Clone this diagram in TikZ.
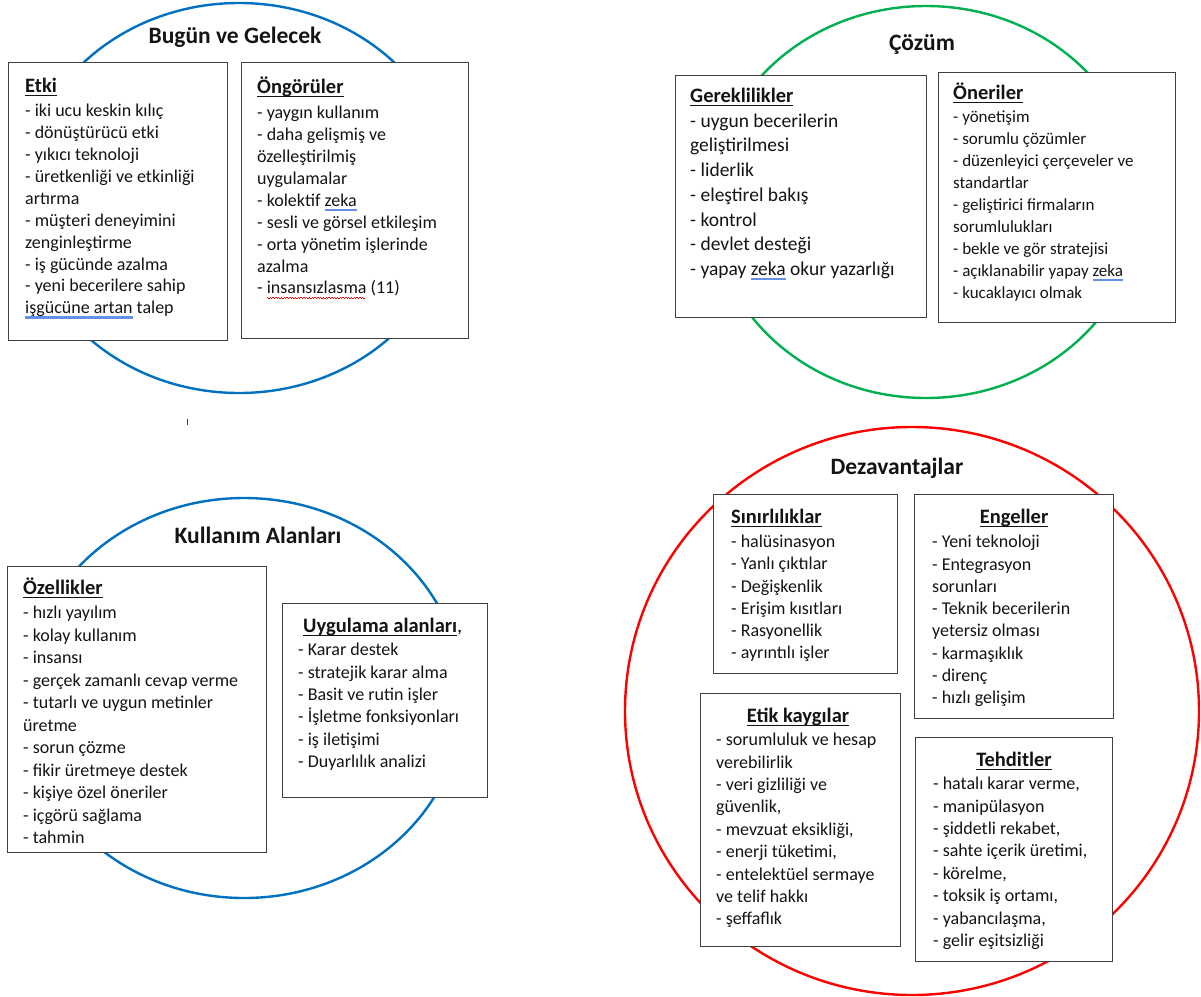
\documentclass[tikz,border=0pt]{standalone}
\usepackage{fontspec}
\setmainfont{Carlito}
\usetikzlibrary{positioning}

\definecolor{ringblue}{RGB}{0,112,192}
\definecolor{ringgreen}{RGB}{0,176,80}
\definecolor{ringred}{RGB}{255,0,0}
\definecolor{framegray}{RGB}{64,64,64}
\definecolor{checkblue}{RGB}{100,145,230}
\definecolor{inkgray}{RGB}{20,20,20}

\newsavebox\markbox
\newcommand\headline[1]{\sbox\markbox{\textbf{#1}}\rlap{\rule[-3.5pt]{\wd\markbox}{1.2pt}}\usebox\markbox}
\newcommand\blueline[1]{\sbox\markbox{#1}\rlap{\textcolor{checkblue}{\rule[-5pt]{\wd\markbox}{2.6pt}}}\usebox\markbox}
\newcommand\redwave[1]{\sbox\markbox{#1}\rlap{\textcolor{ringred}{\hbox to\wd\markbox{\leaders\hbox{\rule[-4pt]{1.4pt}{0.9pt}\rule[-5.2pt]{1.4pt}{0.9pt}}\hfill}}}\usebox\markbox}

\begin{document}
\begin{tikzpicture}[x=1pt,y=-1pt,
	ring/.style={line width=2.4pt},
	panel/.style={draw=framegray,line width=1.4pt,fill=white,anchor=north west,inner sep=0pt},
	maintitle/.style={anchor=base,inner sep=0pt,text=inkgray,font=\bfseries\fontsize{23.5}{28}\selectfont},
	boxtitle/.style={anchor=base west,inner sep=0pt,text=inkgray,font=\fontsize{20.5}{24}\selectfont},
	items/.style={anchor=north west,inner sep=0pt,align=left,text=inkgray,font=\fontsize{18}{#1}\selectfont},
	items/.default=22.2pt]
	\useasboundingbox (0,0) rectangle (1201,996);

	\draw[ring,ringblue] (239,198) ellipse [x radius=216,y radius=195];
	\draw[ring,ringgreen] (926,202) ellipse [x radius=215,y radius=196];
	\draw[ring,ringblue] (244,698) ellipse [x radius=219,y radius=200];
	\draw[ring,ringred] (912,711) ellipse [x radius=287,y radius=284];
	\draw[framegray,line width=0.8pt] (187,419) -- (187,425);

	\node[maintitle] (bugun) at (235,43.5) {Bugün ve Gelecek};
	\node[maintitle] (cozum) at (922,50) {Çözüm};
	\node[maintitle] (kullanim) at (258,543) {Kullanım Alanları};
	\node[maintitle] (dezavantaj) at (897,474) {Dezavantajlar};

	\node[panel,minimum width=219pt,minimum height=278pt] (etki) at (8,62) {};
	\node[boxtitle] (etkihead) at (25,92.5) {\headline{Etki}};
	\node[items=21.9pt,below right=42pt and 17pt of etki.north west] (etkilist) {- iki ucu keskin kılıç\\- dönüştürücü etki\\- yıkıcı teknoloji\\- üretkenliği ve etkinliği\\artırma\\- müşteri deneyimini\\zenginleştirme\\- iş gücünde azalma\\- yeni becerilere sahip\\\blueline{işgücüne artan} talep};

	\node[panel,minimum width=227pt,minimum height=276pt] (ongoru) at (241,62) {};
	\node[boxtitle] (ongoruhead) at (257,93.5) {\headline{Öngörüler}};
	\node[items=21.9pt,below right=44pt and 16pt of ongoru.north west] (ongorulist) {- yaygın kullanım\\- daha gelişmiş ve\\özelleştirilmiş\\uygulamalar\\- kolektif \blueline{zeka}\\- sesli ve görsel etkileşim\\- orta yönetim işlerinde\\azalma\\- \redwave{insansızlasma} (11)};

	\node[panel,minimum width=251pt,minimum height=242pt] (gerek) at (675,75) {};
	\node[boxtitle] (gerekhead) at (690,102.5) {\headline{Gereklilikler}};
	\node[items,font=\fontsize{19.5}{24.7}\selectfont,below right=38.5pt and 15pt of gerek.north west] (gereklist) {- uygun becerilerin\\geliştirilmesi\\- liderlik\\- eleştirel bakış\\- kontrol\\- devlet desteği\\- yapay \blueline{zeka} okur yazarlığı};

	\node[panel,minimum width=237pt,minimum height=250pt] (oneri) at (938,72) {};
	\node[boxtitle] (onerihead) at (953,99.5) {\headline{Öneriler}};
	\node[items,font=\fontsize{17}{22}\selectfont,below right=38.5pt and 15pt of oneri.north west] (onerilist) {- yönetişim\\- sorumlu çözümler\\- düzenleyici çerçeveler ve\\standartlar\\- geliştirici firmaların\\sorumlulukları\\- bekle ve gör stratejisi\\- açıklanabilir yapay \blueline{zeka}\\- kucaklayıcı olmak};

	\node[panel,minimum width=259pt,minimum height=286pt] (ozellik) at (7,566) {};
	\node[boxtitle] (ozellikhead) at (23,594.5) {\headline{Özellikler}};
	\node[items=22.5pt,below right=40pt and 16pt of ozellik.north west] (ozelliklist) {- hızlı yayılım\\- kolay kullanım\\- insansı\\- gerçek zamanlı cevap verme\\- tutarlı ve uygun metinler\\üretme\\- sorun çözme\\- fikir üretmeye destek\\- kişiye özel öneriler\\- içgörü sağlama\\- tahmin};

	\node[panel,minimum width=205pt,minimum height=194pt] (uygulama) at (282,603) {};
	\node[boxtitle] (uygulamahead) at (303,632.5) {\headline{Uygulama alanları},};
	\node[items=22.4pt,below right=40pt and 16pt of uygulama.north west] (uygulamalist) {- Karar destek\\- stratejik karar alma\\- Basit ve rutin işler\\- İşletme fonksiyonları\\- iş iletişimi\\- Duyarlılık analizi};

	\node[panel,minimum width=184pt,minimum height=179pt] (sinir) at (713,494) {};
	\node[boxtitle] (sinirhead) at (731,523.5) {\headline{Sınırlılıklar}};
	\node[items,below right=41pt and 18pt of sinir.north west] (sinirlist) {- halüsinasyon\\- Yanlı çıktılar\\- Değişkenlik\\- Erişim kısıtları\\- Rasyonellik\\- ayrıntılı işler};

	\node[panel,minimum width=199pt,minimum height=224pt] (engel) at (914,494) {};
	\node[boxtitle,anchor=base] (engelhead) at (1014,523.5) {\headline{Engeller}};
	\node[items=22.3pt,below right=41pt and 18pt of engel.north west] (engellist) {- Yeni teknoloji\\- Entegrasyon\\sorunları\\- Teknik becerilerin\\yetersiz olması\\- karmaşıklık\\- direnç\\- hızlı gelişim};

	\node[panel,minimum width=200pt,minimum height=253pt] (etik) at (700,693) {};
	\node[boxtitle,anchor=base] (etikhead) at (798,722.5) {\headline{Etik kaygılar}};
	\node[items=22.4pt,below right=40pt and 16pt of etik.north west] (etiklist) {- sorumluluk ve hesap\\verebilirlik\\- veri gizliliği ve\\güvenlik,\\- mevzuat eksikliği,\\- enerji tüketimi,\\- entelektüel sermaye\\ve telif hakkı\\- şeffaflık};

	\node[panel,minimum width=197pt,minimum height=224pt] (tehdit) at (915,737) {};
	\node[boxtitle,anchor=base] (tehdithead) at (1014,766.5) {\headline{Tehditler}};
	\node[items=22.4pt,below right=40pt and 18pt of tehdit.north west] (tehditlist) {- hatalı karar verme,\\- manipülasyon\\- şiddetli rekabet,\\- sahte içerik üretimi,\\- körelme,\\- toksik iş ortamı,\\- yabancılaşma,\\- gelir eşitsizliği};
\end{tikzpicture}
\end{document}
